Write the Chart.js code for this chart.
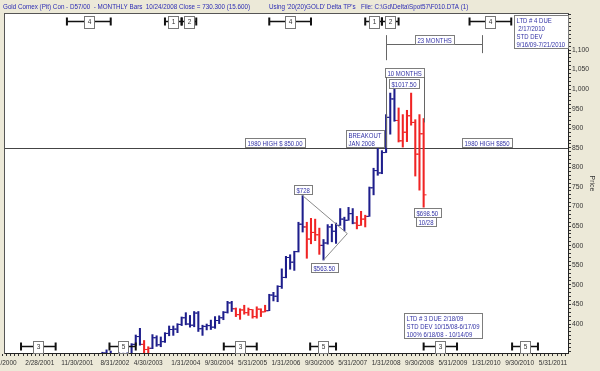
<!DOCTYPE html>
<html>
<head>
<meta charset="utf-8">
<script src="https://cdn.jsdelivr.net/npm/chart.js@4"></script>
<style>
html, body { margin: 0; padding: 0; background: #ECE9D8; }
#wrap { width: 600px; height: 371px; }
</style>
</head>
<body>
<div id="wrap"><canvas id="myChart" width="600" height="371"></canvas></div>
<script>
// month index: 0 = Jan 2000
var months = [27, 28, 29, 30, 31, 32, 33, 34, 35, 36, 37, 38, 39, 40, 41, 42, 43, 44, 45, 46,
    47, 48, 49, 50, 51, 52, 53, 54, 55, 56, 57, 58, 59, 60, 61, 62, 63, 64, 65, 66,
    67, 68, 69, 70, 71, 72, 73, 74, 75, 76, 77, 78, 79, 80, 81, 82, 83, 84, 85, 86,
    87, 88, 89, 90, 91, 92, 93, 94, 95, 96, 97, 98, 99, 100, 101, 102, 103, 104, 105];
var opens = [303, 309, 326, 318, 304, 313, 324, 318, 319, 348, 368, 348, 335, 338, 365, 347, 355, 376, 386, 387,
    399, 416, 400, 397, 428, 388, 394, 396, 392, 409, 416, 430, 454, 439, 424, 436, 429, 437, 419, 438,
    431, 434, 474, 471, 496, 519, 570, 558, 585, 655, 648, 617, 634, 628, 601, 607, 648, 637, 652, 668,
    665, 682, 658, 652, 668, 675, 748, 792, 786, 838, 928, 975, 920, 868, 890, 932, 915, 834, 886];
var highs = [311, 328, 334, 331, 316, 329, 326, 328, 350, 372, 389, 358, 342, 373, 370, 367, 378, 395, 395, 401,
    418, 429, 422, 432, 432, 397, 400, 410, 419, 421, 432, 458, 458, 441, 439, 448, 441, 437, 444, 439,
    448, 476, 481, 498, 541, 573, 577, 586, 660, 728, 660, 670, 668, 645, 616, 654, 655, 658, 695, 673,
    698, 695, 675, 688, 678, 750, 798, 851, 843, 935, 990, 1017.5, 952, 935, 946, 990, 922, 935, 925];
var lows = [300, 308, 316, 302, 301, 311, 310, 316, 318, 345, 346, 323, 322, 337, 343, 342, 353, 370, 371, 378,
    396, 398, 392, 393, 381, 371, 385, 386, 389, 401, 411, 428, 432, 419, 412, 425, 422, 415, 415, 419,
    431, 434, 459, 457, 491, 518, 540, 537, 584, 635, 568, 605, 613, 578, 563.5, 604, 610, 606, 652, 638,
    665, 656, 643, 652, 648, 675, 730, 780, 784, 838, 885, 918, 865, 852, 866, 908, 778, 742, 698.5];
var closes = [309, 326, 318, 304, 313, 324, 318, 319, 348, 368, 348, 335, 338, 365, 347, 355, 376, 386, 387, 399,
    416, 400, 397, 428, 388, 394, 396, 392, 409, 416, 430, 454, 439, 424, 436, 429, 437, 419, 438, 431,
    434, 474, 471, 496, 519, 570, 558, 585, 655, 648, 617, 634, 628, 601, 607, 648, 637, 652, 668, 665,
    682, 658, 652, 668, 675, 748, 792, 786, 838, 928, 975, 920, 868, 890, 932, 915, 834, 886, 730];
// 1 = red (down-trend) bar
var redBars = [0, 0, 0, 0, 0, 0, 0, 0, 0, 0, 0, 1, 1, 0, 0, 0, 0, 0, 0, 0,
    0, 0, 0, 0, 0, 0, 0, 0, 0, 0, 0, 0, 0, 1, 1, 1, 1, 1, 1, 1,
    1, 0, 0, 0, 0, 0, 0, 0, 0, 0, 1, 1, 1, 1, 0, 0, 0, 0, 0, 0,
    0, 0, 1, 1, 1, 0, 0, 0, 0, 0, 0, 0, 1, 1, 1, 1, 1, 1, 1];

var xTickMonths = [4, 13, 22, 31, 39, 48, 56, 64, 72, 80, 88, 96, 104, 112, 120, 128, 136];
var xTickLabels = ['5/31/2000', '2/28/2001', '11/30/2001', '8/31/2002', '4/30/2003', '1/31/2004', '9/30/2004',
    '5/31/2005', '1/31/2006', '9/30/2006', '5/31/2007', '1/31/2008', '9/30/2008', '5/31/2009', '1/31/2010',
    '9/30/2010', '5/31/2011'];
var yTickValues = [400, 450, 500, 550, 600, 650, 700, 750, 800, 850, 900, 950, 1000, 1050, 1100];

// cycle markers: [start month, end month, label]
var topCycles = [[19.5, 30, '4'], [43, 47, '1'], [47, 50.5, '2'], [68, 78, '4'], [91, 95, '1'], [95, 99, '2'], [116, 126, '4']];
var bottomCycles = [[8.5, 16.8, '3'], [29.7, 36, '5'], [57.1, 65, '3'], [77.8, 84, '5'], [105, 113, '3'], [126.2, 132.4, '5']];

// text notes: month, price of top edge, lines
var notes = [
    {m: 62.1, v: 875, lines: ['1980 HIGH $ 850.00']},
    {m: 114.1, v: 875, lines: ['1980 HIGH $850']},
    {m: 86.4, v: 896, lines: ['BREAKOUT', 'JAN 2008']},
    {m: 96.7, v: 1026, lines: ['$1017.50']},
    {m: 102.6, v: 697, lines: ['$698.50']},
    {m: 103.1, v: 673, lines: ['10/28']},
    {m: 74.0, v: 755, lines: ['$728']},
    {m: 78.1, v: 556, lines: ['$563.50']},
    {m: 126.7, v: 1189, lines: ['LTD # 4 DUE', ' 2/17/2010', 'STD DEV', '9/16/09-7/21/2010']},
    {m: 100.25, v: 428, lines: ['LTD # 3 DUE 2/18/09', 'STD DEV 10/15/08-6/17/09', '100% 6/18/08 - 10/14/09']}
];

var FONT = "'Liberation Sans', Arial, sans-serif";
var NOTE_BLUE = '#3333a6';
var SQUEEZE = 0.8; // the original uses a narrow screen font
var barColors = redBars.map(function (r) { return r ? '#f02424' : '#1e1e8c'; });

function narrowText(ctx, t, x, y, sx) {
    ctx.save();
    ctx.translate(x, y);
    ctx.scale(sx, 1);
    ctx.fillText(t, 0, 0);
    ctx.restore();
}

function noteBox(ctx, x, y, lines, center) {
    ctx.font = '7.5px ' + FONT;
    var w = 0;
    lines.forEach(function (t) { w = Math.max(w, ctx.measureText(t).width * SQUEEZE); });
    w = Math.round(w + 5);
    var h = lines.length * 8 + 1;
    if (center) x = x - w / 2;
    x = Math.round(x); y = Math.round(y);
    ctx.fillStyle = '#fff';
    ctx.fillRect(x, y, w, h);
    ctx.strokeStyle = '#7d7d7d';
    ctx.lineWidth = 1;
    ctx.strokeRect(x + 0.5, y + 0.5, w, h);
    ctx.fillStyle = NOTE_BLUE;
    ctx.textBaseline = 'middle';
    ctx.textAlign = 'left';
    lines.forEach(function (t, i) { narrowText(ctx, t, x + 2.5, y + 1 + 8 * i + 4.5, SQUEEZE); });
    return {x: x, y: y, w: w, h: h};
}

function cycleMarker(ctx, x1, x2, y, label) {
    ctx.strokeStyle = '#111';
    ctx.lineWidth = 1.5;
    ctx.beginPath(); ctx.moveTo(x1, y); ctx.lineTo(x2, y); ctx.stroke();
    ctx.lineWidth = 2;
    ctx.beginPath();
    ctx.moveTo(x1, y - 4); ctx.lineTo(x1, y + 4);
    ctx.moveTo(x2, y - 4); ctx.lineTo(x2, y + 4);
    ctx.stroke();
    var cx = Math.round((x1 + x2) / 2);
    ctx.fillStyle = '#fff';
    ctx.fillRect(cx - 5, y - 6, 11, 12);
    ctx.strokeStyle = '#777';
    ctx.lineWidth = 1;
    ctx.strokeRect(cx - 5 + 0.5, Math.round(y - 6) + 0.5, 10, 12);
    ctx.fillStyle = '#333';
    ctx.font = '6.5px ' + FONT;
    ctx.textAlign = 'center';
    ctx.textBaseline = 'middle';
    ctx.fillText(label, cx + 0.5, y + 0.5);
}

var overlay = {
    id: 'overlay',
    beforeDraw: function (chart) {
        var ctx = chart.ctx, a = chart.chartArea;
        ctx.save();
        ctx.fillStyle = '#ECE9D8';
        ctx.fillRect(0, 0, chart.width, chart.height);
        ctx.fillStyle = '#fff';
        ctx.fillRect(a.left, a.top, a.right - a.left, a.bottom - a.top);
        ctx.strokeStyle = '#555';
        ctx.lineWidth = 1;
        ctx.strokeRect(a.left - 0.5, a.top - 0.5, a.right - a.left + 1, a.bottom - a.top + 1);
        ctx.font = '7.5px ' + FONT;
        ctx.fillStyle = '#2b2bb4';
        ctx.textBaseline = 'middle';
        var head = 'Gold Comex (Pit) Con - D57/00  - MONTHLY Bars  10/24/2008 Close = 730.300 (15.600)';
        var sx = 247 / ctx.measureText(head).width;
        narrowText(ctx, head, 3, 6.5, sx);
        narrowText(ctx, "Using '20(20)GOLD' Delta TP's", 269, 6.5, sx);
        narrowText(ctx, 'File: C:\\Gd\\Delta\\Spot57\\F010.DTA (1)', 361, 6.5, sx);
        ctx.restore();
    },
    beforeDatasetsDraw: function (chart) {
        var ctx = chart.ctx, a = chart.chartArea, y = chart.scales.y;
        var py = Math.round(y.getPixelForValue(850)) + 0.5;
        ctx.save();
        ctx.strokeStyle = '#444';
        ctx.lineWidth = 1;
        ctx.beginPath(); ctx.moveTo(a.left, py); ctx.lineTo(a.right, py); ctx.stroke();
        ctx.restore();
    },
    afterDatasetsDraw: function (chart) {
        var ctx = chart.ctx, xs = chart.scales.x, ys = chart.scales.y;
        var X = function (m) { return xs.getPixelForValue(m); };
        var Y = function (v) { return ys.getPixelForValue(v); };
        ctx.save();
        // triangle around the 2006 consolidation
        ctx.strokeStyle = '#8a8a8a';
        ctx.lineWidth = 1;
        ctx.beginPath();
        ctx.moveTo(X(76), Y(728)); ctx.lineTo(X(86.7), Y(631));
        ctx.lineTo(X(81), Y(563.5));
        ctx.stroke();
        // 23 months bracket
        ctx.strokeStyle = '#666';
        var l = Math.round(X(96)) + 0.5, r = Math.round(X(119)) + 0.5;
        ctx.beginPath();
        ctx.moveTo(l, Y(1138)); ctx.lineTo(l, Y(1074));
        ctx.moveTo(r, Y(1138)); ctx.lineTo(r, Y(1092));
        ctx.moveTo(l, Math.round(Y(1115)) + 0.5); ctx.lineTo(r, Math.round(Y(1115)) + 0.5);
        ctx.stroke();
        noteBox(ctx, X(107.5), Y(1138), ['23 MONTHS'], true);
        // 10 months bracket
        var b = noteBox(ctx, X(100.5), Y(1054), ['10 MONTHS'], true);
        var r2 = Math.round(X(105)) + 0.5;
        ctx.strokeStyle = '#666';
        ctx.beginPath();
        ctx.moveTo(l, b.y + b.h); ctx.lineTo(l, Y(850));
        ctx.moveTo(r2, b.y + b.h); ctx.lineTo(r2, Y(915));
        ctx.stroke();
        notes.forEach(function (n) { noteBox(ctx, X(n.m), Y(n.v), n.lines, false); });
        topCycles.forEach(function (c) { cycleMarker(ctx, X(c[0]), X(c[1]), 21.5, c[2]); });
        bottomCycles.forEach(function (c) { cycleMarker(ctx, X(c[0]), X(c[1]), 346.5, c[2]); });
        ctx.restore();
    }
};

var ctx = document.getElementById('myChart').getContext('2d');
var myChart = new Chart(ctx, {
    type: 'bar',
    data: {
        datasets: [{
            type: 'bar',
            data: months.map(function (m, i) { return {x: m, y: [lows[i], highs[i]]}; }),
            backgroundColor: barColors,
            borderWidth: 0,
            barThickness: 1.4,
            grouped: false,
            clip: 0
        }, {
            type: 'line',
            data: months.map(function (m, i) { return {x: m - 0.4, y: opens[i]}; }),
            showLine: false,
            pointStyle: 'line',
            pointRadius: 1.2,
            pointBorderWidth: 1,
            pointBorderColor: barColors,
            pointBackgroundColor: barColors,
            clip: 0
        }, {
            type: 'line',
            data: months.map(function (m, i) { return {x: m + 0.4, y: closes[i]}; }),
            showLine: false,
            pointStyle: 'line',
            pointRadius: 1.2,
            pointBorderWidth: 1,
            pointBorderColor: barColors,
            pointBackgroundColor: barColors,
            clip: 0
        }]
    },
    options: {
        responsive: false,
        animation: false,
        events: [],
        devicePixelRatio: 1,
        layout: { padding: { top: 14, left: 2, right: 0, bottom: 0 } },
        plugins: { legend: { display: false }, tooltip: { enabled: false } },
        scales: {
            x: {
                type: 'linear',
                min: 4.66,
                max: 139.6,
                offset: false,
                afterBuildTicks: function (s) {
                    var t = [];
                    for (var m = 4; m <= 139; m++) t.push({value: m});
                    s.ticks = t;
                },
                afterFit: function (s) { s.height = 18; s.paddingLeft = 0; s.paddingRight = 0; },
                grid: { drawOnChartArea: false, offset: false, tickLength: 3, color: '#333' },
                border: { color: '#222' },
                ticks: {
                    autoSkip: false, maxRotation: 0, minRotation: 0, padding: 3, color: '#333',
                    font: { family: FONT, size: 6.5 },
                    callback: function (v) {
                        var k = xTickMonths.indexOf(v);
                        return k < 0 ? '' : xTickLabels[k];
                    }
                }
            },
            y: {
                position: 'right',
                min: 326,
                max: 1192,
                afterBuildTicks: function (s) {
                    var t = [];
                    for (var v = 330; v <= 1190; v += 10) t.push({value: v});
                    s.ticks = t;
                },
                afterFit: function (s) { s.width = 32; s.paddingTop = 0; s.paddingBottom = 0; },
                grid: { drawOnChartArea: false, tickLength: 3, color: '#333' },
                border: { color: '#222' },
                ticks: {
                    autoSkip: false, padding: 1, color: '#333',
                    font: { family: FONT, size: 6.8 },
                    callback: function (v) {
                        return yTickValues.indexOf(v) < 0 ? '' : v.toLocaleString('en-US');
                    }
                },
                title: { display: true, text: 'Price', color: '#333', font: { family: FONT, size: 7 }, padding: { top: 4, bottom: 0 } }
            }
        }
    },
    plugins: [overlay]
});
</script>
</body>
</html>
